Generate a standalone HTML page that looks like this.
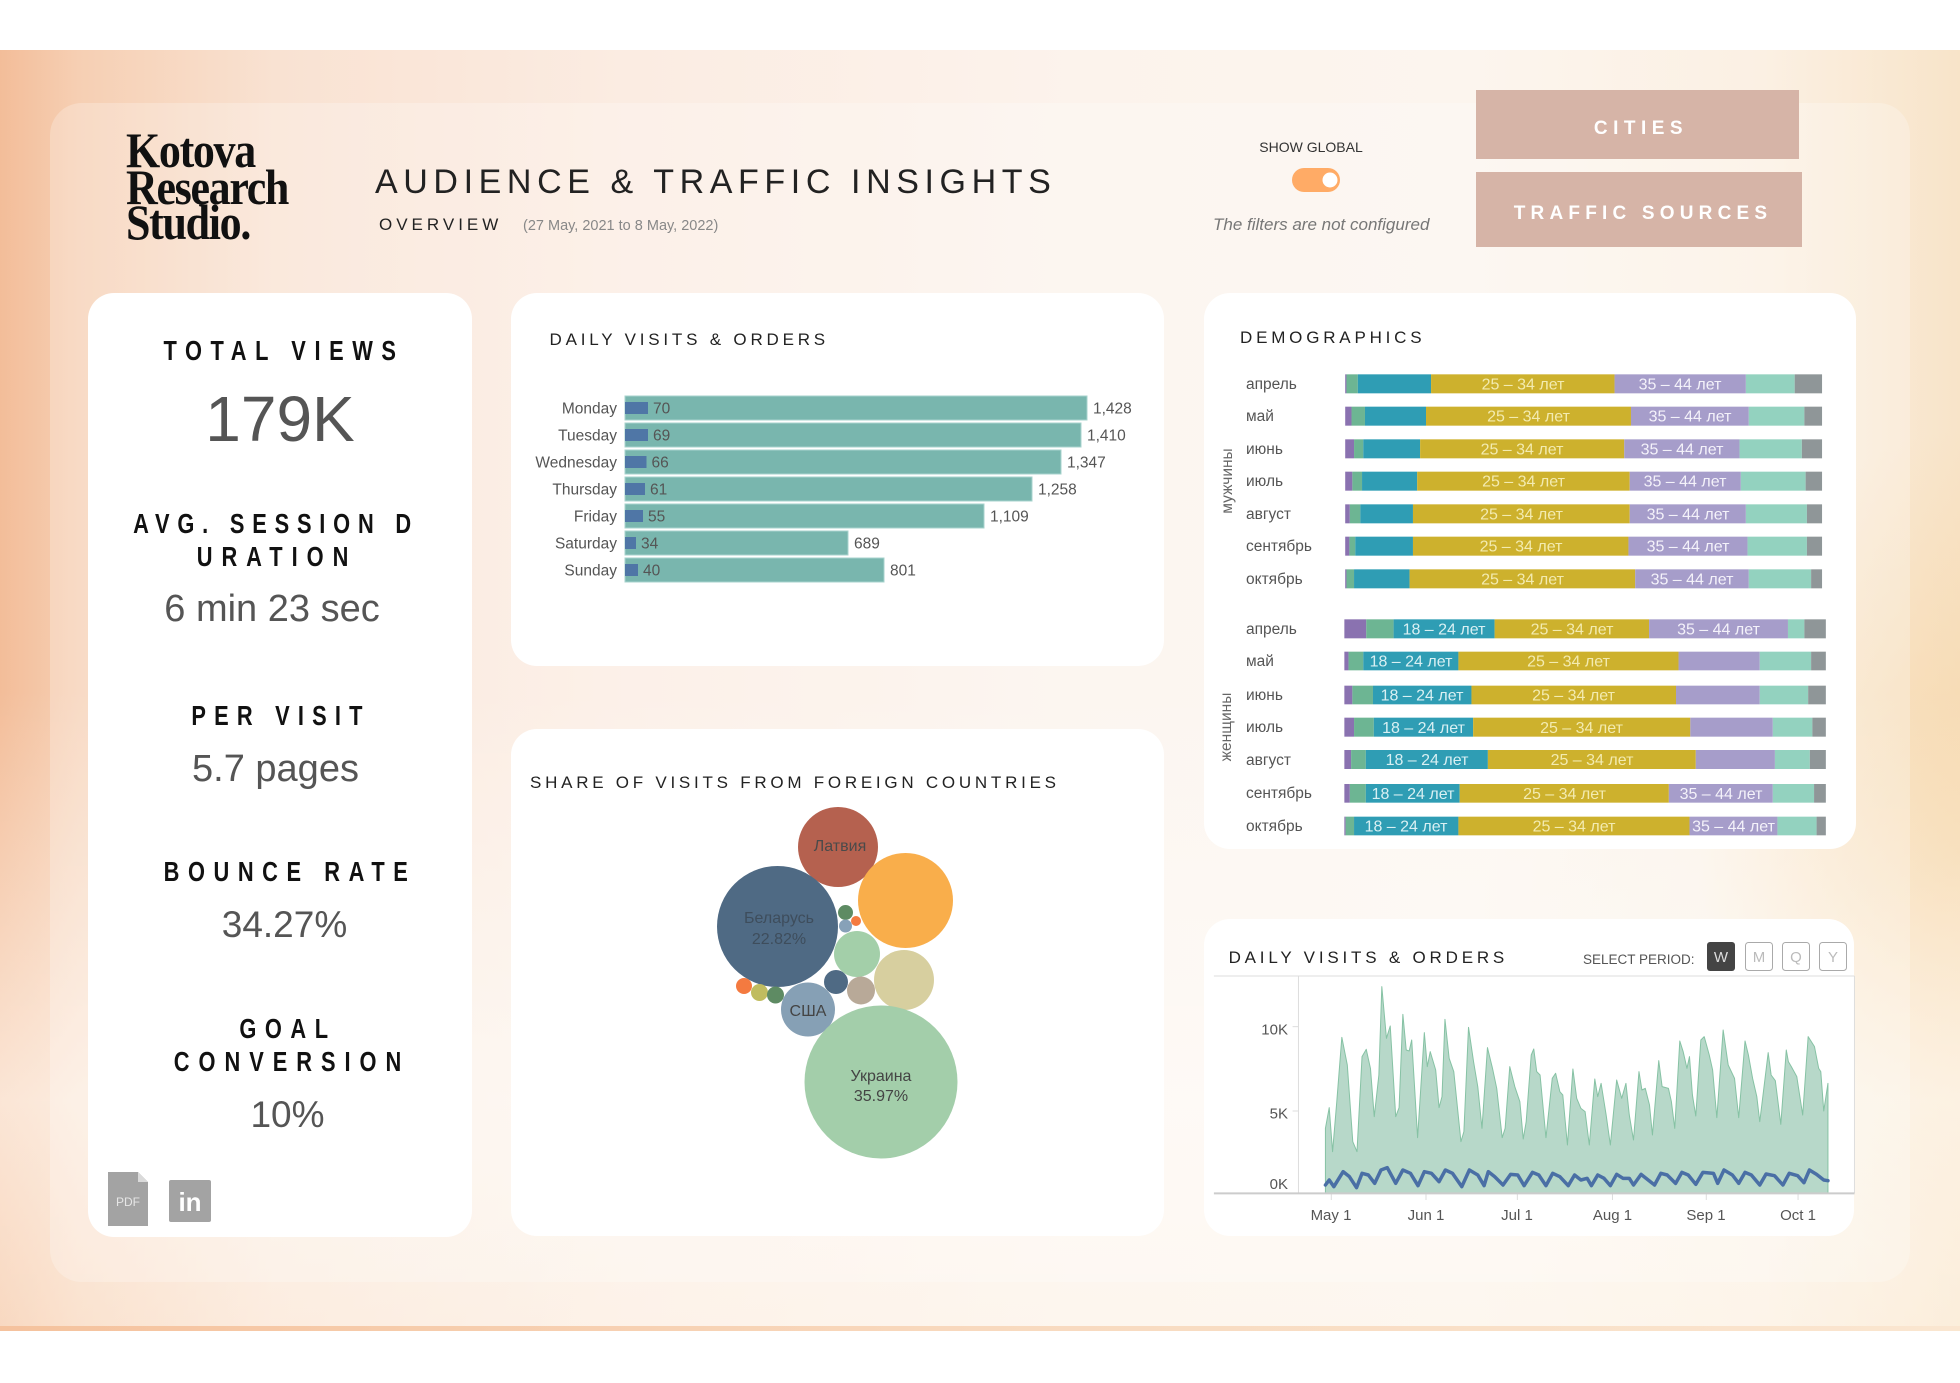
<!DOCTYPE html>
<html><head><meta charset="utf-8">
<style>
html,body{margin:0;padding:0;}
body{width:1960px;height:1383px;position:relative;overflow:hidden;background:#fff;font-family:"Liberation Sans","Noto Sans CJK SC",sans-serif;}
.bg{position:absolute;left:0;top:50px;width:1960px;height:1281px;
background:
linear-gradient(to bottom, rgba(255,255,255,0) 0%, rgba(255,255,255,0) 50%, rgba(255,251,246,0.65) 82%, rgba(255,249,240,0.45) 100%),
radial-gradient(ellipse 260px 420px at 1960px 800px, rgba(246,214,168,0.9), rgba(246,214,168,0) 100%),
linear-gradient(to right, #F3BD99 0%, #F6CFB3 4%, #F9E2D2 14%, #FBECE2 32%, #FCF3EC 55%, #FCF5EE 75%, #FBF0E3 90%, #F8E4C9 100%);}
.bgline{position:absolute;left:0;top:1326px;width:1960px;height:5px;background:linear-gradient(to right,#F5C29D,#F8D9BE 50%,#FAE6D0);}
.panel{position:absolute;left:50px;top:103px;width:1860px;height:1179px;border-radius:32px;background:rgba(255,255,255,0.24);}
.card{position:absolute;background:#fff;border-radius:26px;}
svg{position:absolute;left:0;top:0;}
</style></head><body>
<div class="bg"></div>
<div class="bgline"></div>
<div class="panel"></div>
<div class="card" style="left:88px;top:293px;width:384px;height:944px;"></div>
<div class="card" style="left:511px;top:293px;width:653px;height:373px;"></div>
<div class="card" style="left:511px;top:729px;width:653px;height:507px;"></div>
<div class="card" style="left:1204px;top:293px;width:652px;height:556px;"></div>
<div class="card" style="left:1204px;top:919px;width:650px;height:317px;"></div>

<svg width="1960" height="1383" viewBox="0 0 1960 1383" xmlns="http://www.w3.org/2000/svg" font-family="Liberation Sans, sans-serif">
<!-- Logo -->
<g font-family="Liberation Serif, serif" font-weight="bold" font-size="50" fill="#111" style="letter-spacing:-1.5px">
<text transform="translate(126,167) scale(0.88,1)">Kotova</text>
<text transform="translate(126,204) scale(0.88,1)">Research</text>
<text transform="translate(126,239) scale(0.88,1)">Studio.</text>
</g>
<!-- Title -->
<text x="375" y="193" font-size="34" fill="#222" style="letter-spacing:5.6px">AUDIENCE &amp; TRAFFIC INSIGHTS</text>
<text x="379" y="230" font-size="17" fill="#222" style="letter-spacing:4px">OVERVIEW</text>
<text x="523" y="230" font-size="14.5" fill="#888">(27 May, 2021 to 8 May, 2022)</text>
<!-- Show global -->
<text x="1311" y="152" font-size="14" fill="#333" text-anchor="middle">SHOW GLOBAL</text>
<rect x="1292" y="168" width="48" height="24" rx="12" fill="#FFAB66"/>
<circle cx="1330" cy="180" r="7.5" fill="#fff"/>
<text x="1213" y="230" font-size="17" font-style="italic" fill="#777">The filters are not configured</text>
<!-- Buttons -->
<rect x="1476" y="90" width="323" height="69" fill="#D6B4A7"/>
<text x="1641" y="134" font-size="19" font-weight="bold" fill="#fff" text-anchor="middle" style="letter-spacing:5.5px">CITIES</text>
<rect x="1476" y="172" width="326" height="75" fill="#D6B4A7"/>
<text x="1643" y="219" font-size="19" font-weight="bold" fill="#fff" text-anchor="middle" style="letter-spacing:5.2px">TRAFFIC SOURCES</text>

<!-- KPI card -->
<g font-weight="bold" font-size="28" fill="#111" text-anchor="middle">
<text transform="translate(284,360) scale(0.78,1)" style="letter-spacing:11px">TOTAL VIEWS</text>
<text transform="translate(276,533) scale(0.78,1)" style="letter-spacing:10px">AVG. SESSION D</text>
<text transform="translate(277,566) scale(0.78,1)" style="letter-spacing:11.5px">URATION</text>
<text transform="translate(281,725) scale(0.78,1)" style="letter-spacing:10.5px">PER VISIT</text>
<text transform="translate(290,881) scale(0.78,1)" style="letter-spacing:11px">BOUNCE RATE</text>
<text transform="translate(288,1038) scale(0.78,1)" style="letter-spacing:11px">GOAL</text>
<text transform="translate(292,1071) scale(0.78,1)" style="letter-spacing:11.5px">CONVERSION</text>
</g>
<g fill="#555" text-anchor="middle">
<text x="280" y="441" font-size="64">179K</text>
<text x="272" y="621" font-size="38">6 min 23 sec</text>
<text x="275.5" y="781" font-size="38">5.7 pages</text>
<text x="284.5" y="937" font-size="37">34.27%</text>
<text x="287.5" y="1127" font-size="37">10%</text>
</g>
<path d="M108,1172 H138 L148,1182 V1226 H108 Z" fill="#A3A3A3"/>
<path d="M138,1172 V1182 H148 Z" fill="#DADADA"/>
<text x="128" y="1206" font-size="12" fill="#E6E6E6" text-anchor="middle">PDF</text>
<rect x="169" y="1180" width="42" height="42" rx="2" fill="#A3A3A3"/>
<text x="190" y="1211" font-size="26" font-weight="bold" fill="#fff" text-anchor="middle">in</text>

<!-- Daily visits bar chart -->
<text x="549.5" y="345" font-size="17" fill="#222" style="letter-spacing:3.8px">DAILY VISITS &amp; ORDERS</text>
<g fill="#79B6AE" stroke="#A7D3CD" stroke-width="1">
<rect x="625" y="396" width="462" height="24"/>
<rect x="625" y="423" width="456" height="24"/>
<rect x="625" y="450" width="436" height="24"/>
<rect x="625" y="477" width="407" height="24"/>
<rect x="625" y="504" width="359" height="24"/>
<rect x="625" y="531" width="223" height="24"/>
<rect x="625" y="558" width="259" height="24"/>
</g>
<g fill="#4F76A6">
<rect x="625" y="402" width="23" height="12"/>
<rect x="625" y="429" width="23" height="12"/>
<rect x="625" y="456" width="21.5" height="12"/>
<rect x="625" y="483" width="20" height="12"/>
<rect x="625" y="510" width="18" height="12"/>
<rect x="625" y="537" width="11" height="12"/>
<rect x="625" y="564" width="13" height="12"/>
</g>
<g font-size="15.5" fill="#555">
<g text-anchor="end">
<text x="617" y="413.5">Monday</text>
<text x="617" y="440.5">Tuesday</text>
<text x="617" y="467.5">Wednesday</text>
<text x="617" y="494.5">Thursday</text>
<text x="617" y="521.5">Friday</text>
<text x="617" y="548.5">Saturday</text>
<text x="617" y="575.5">Sunday</text>
</g>
<text x="653" y="413.5">70</text>
<text x="653" y="440.5">69</text>
<text x="651.5" y="467.5">66</text>
<text x="650" y="494.5">61</text>
<text x="648" y="521.5">55</text>
<text x="641" y="548.5">34</text>
<text x="643" y="575.5">40</text>
<text x="1093" y="413.5">1,428</text>
<text x="1087" y="440.5">1,410</text>
<text x="1067" y="467.5">1,347</text>
<text x="1038" y="494.5">1,258</text>
<text x="990" y="521.5">1,109</text>
<text x="854" y="548.5">689</text>
<text x="890" y="575.5">801</text>
</g>

<!-- Bubble chart -->
<text x="530" y="788" font-size="17" fill="#222" style="letter-spacing:3.75px">SHARE OF VISITS FROM FOREIGN COUNTRIES</text>
<circle cx="838" cy="847" r="40" fill="#B5614F"/>
<circle cx="777.5" cy="926.5" r="60.5" fill="#4F6A84"/>
<circle cx="905.5" cy="900.5" r="47.5" fill="#F9AE4B"/>
<circle cx="857" cy="954" r="23" fill="#A3CFA9"/>
<circle cx="904" cy="980" r="30" fill="#D7CF9F"/>
<circle cx="845.5" cy="912.5" r="7.5" fill="#5E8B63"/>
<circle cx="856" cy="921" r="5" fill="#F47A40"/>
<circle cx="845.5" cy="926" r="6.5" fill="#87A1B8"/>
<circle cx="836" cy="982" r="12" fill="#4F6A84"/>
<circle cx="861" cy="990.5" r="14" fill="#B8A998"/>
<circle cx="808" cy="1009.5" r="27" fill="#86A0B5"/>
<circle cx="744" cy="986" r="8" fill="#F47A40"/>
<circle cx="759.5" cy="992.5" r="8.5" fill="#C0BC5F"/>
<circle cx="775.5" cy="995" r="8.5" fill="#5E8B63"/>
<circle cx="881" cy="1082" r="76.5" fill="#A3CEAA"/>
<g font-size="16" text-anchor="middle">
<text x="840" y="851" fill="#4a4a4a">Латвия</text>
<text x="779" y="923" fill="#3E4D5C">Беларусь</text>
<text x="779" y="944" fill="#3E4D5C">22.82%</text>
<text x="808" y="1016" fill="#444">США</text>
<text x="881" y="1081" fill="#444">Украина</text>
<text x="881" y="1101" fill="#444">35.97%</text>
</g>

<!-- Demographics -->
<text x="1240" y="343" font-size="17" fill="#222" style="letter-spacing:3.8px">DEMOGRAPHICS</text>
<g transform="translate(1200,290) scale(0.420875,0.333333)">
<g fill="#8A72B0"><rect x="345" y="253" width="3" height="57"/><rect x="345" y="350" width="15" height="57"/><rect x="345" y="448" width="21" height="57"/><rect x="345" y="545" width="17" height="57"/><rect x="345" y="643" width="11" height="57"/><rect x="345" y="740" width="10" height="57"/><rect x="345" y="838" width="3" height="57"/></g>
<g fill="#6DB593"><rect x="348" y="253" width="27" height="57"/><rect x="360" y="350" width="32" height="57"/><rect x="366" y="448" width="22" height="57"/><rect x="362" y="545" width="23" height="57"/><rect x="356" y="643" width="25" height="57"/><rect x="355" y="740" width="14" height="57"/><rect x="348" y="838" width="18" height="57"/></g>
<g fill="#2F9DB4"><rect x="375" y="253" width="174" height="57"/><rect x="392" y="350" width="145" height="57"/><rect x="388" y="448" width="135" height="57"/><rect x="385" y="545" width="131" height="57"/><rect x="381" y="643" width="125" height="57"/><rect x="369" y="740" width="137" height="57"/><rect x="366" y="838" width="132" height="57"/></g>
<g fill="#CDB12D"><rect x="549" y="253" width="436" height="57"/><rect x="537" y="350" width="487" height="57"/><rect x="523" y="448" width="485" height="57"/><rect x="516" y="545" width="505" height="57"/><rect x="506" y="643" width="515" height="57"/><rect x="506" y="740" width="512" height="57"/><rect x="498" y="838" width="536" height="57"/></g>
<g fill="#A69DCA"><rect x="985" y="253" width="312" height="57"/><rect x="1024" y="350" width="280" height="57"/><rect x="1008" y="448" width="274" height="57"/><rect x="1021" y="545" width="264" height="57"/><rect x="1021" y="643" width="276" height="57"/><rect x="1018" y="740" width="283" height="57"/><rect x="1034" y="838" width="270" height="57"/></g>
<g fill="#93D2BF"><rect x="1297" y="253" width="116" height="57"/><rect x="1304" y="350" width="132" height="57"/><rect x="1282" y="448" width="148" height="57"/><rect x="1285" y="545" width="154" height="57"/><rect x="1297" y="643" width="145" height="57"/><rect x="1301" y="740" width="141" height="57"/><rect x="1304" y="838" width="148" height="57"/></g>
<g fill="#8F9698"><rect x="1413" y="253" width="65" height="57"/><rect x="1436" y="350" width="42" height="57"/><rect x="1430" y="448" width="48" height="57"/><rect x="1439" y="545" width="39" height="57"/><rect x="1442" y="643" width="36" height="57"/><rect x="1442" y="740" width="36" height="57"/><rect x="1452" y="838" width="26" height="57"/></g>
</g>
<g transform="translate(1200,590) scale(0.420875,0.333333)">
<g fill="#8A72B0"><rect x="343" y="88" width="52" height="57"/><rect x="343" y="185" width="10" height="56"/><rect x="343" y="287" width="19" height="56"/><rect x="343" y="383" width="23" height="57"/><rect x="343" y="480" width="16" height="57"/><rect x="343" y="582" width="13" height="56"/><rect x="343" y="680" width="3" height="56"/></g>
<g fill="#6DB593"><rect x="395" y="88" width="65" height="57"/><rect x="353" y="185" width="35" height="56"/><rect x="362" y="287" width="49" height="56"/><rect x="366" y="383" width="47" height="57"/><rect x="359" y="480" width="35" height="57"/><rect x="356" y="582" width="38" height="56"/><rect x="346" y="680" width="20" height="56"/></g>
<g fill="#2F9DB4"><rect x="460" y="88" width="240" height="57"/><rect x="388" y="185" width="226" height="56"/><rect x="411" y="287" width="234" height="56"/><rect x="413" y="383" width="236" height="57"/><rect x="394" y="480" width="290" height="57"/><rect x="394" y="582" width="223" height="56"/><rect x="366" y="680" width="248" height="56"/></g>
<g fill="#CDB12D"><rect x="700" y="88" width="367" height="57"/><rect x="614" y="185" width="523" height="56"/><rect x="645" y="287" width="486" height="56"/><rect x="649" y="383" width="516" height="57"/><rect x="684" y="480" width="494" height="57"/><rect x="617" y="582" width="497" height="56"/><rect x="614" y="680" width="549" height="56"/></g>
<g fill="#A69DCA"><rect x="1067" y="88" width="330" height="57"/><rect x="1137" y="185" width="193" height="56"/><rect x="1131" y="287" width="199" height="56"/><rect x="1165" y="383" width="196" height="57"/><rect x="1178" y="480" width="188" height="57"/><rect x="1114" y="582" width="247" height="56"/><rect x="1163" y="680" width="209" height="56"/></g>
<g fill="#93D2BF"><rect x="1397" y="88" width="39" height="57"/><rect x="1330" y="185" width="122" height="56"/><rect x="1330" y="287" width="115" height="56"/><rect x="1361" y="383" width="94" height="57"/><rect x="1366" y="480" width="83" height="57"/><rect x="1361" y="582" width="98" height="56"/><rect x="1372" y="680" width="93" height="56"/></g>
<g fill="#8F9698"><rect x="1436" y="88" width="51" height="57"/><rect x="1452" y="185" width="35" height="56"/><rect x="1445" y="287" width="42" height="56"/><rect x="1455" y="383" width="32" height="57"/><rect x="1449" y="480" width="38" height="57"/><rect x="1459" y="582" width="28" height="56"/><rect x="1465" y="680" width="22" height="56"/></g>
</g>
<g font-size="15.5" fill="#555">
<text x="1246" y="389">апрель</text>
<text x="1246" y="421">май</text>
<text x="1246" y="454">июнь</text>
<text x="1246" y="486">июль</text>
<text x="1246" y="519">август</text>
<text x="1246" y="551">сентябрь</text>
<text x="1246" y="584">октябрь</text>
<text x="1246" y="634">апрель</text>
<text x="1246" y="666">май</text>
<text x="1246" y="700">июнь</text>
<text x="1246" y="732">июль</text>
<text x="1246" y="765">август</text>
<text x="1246" y="798">сентябрь</text>
<text x="1246" y="831">октябрь</text>
</g>
<text transform="translate(1232,481) rotate(-90)" font-size="15.5" fill="#666" text-anchor="middle">мужчины</text>
<text transform="translate(1231,727) rotate(-90)" font-size="15.5" fill="#666" text-anchor="middle">женщины</text>
<g font-size="16" text-anchor="middle">
<g fill="#F3EBB0">
<text x="1523" y="389.5">25 – 34 лет</text>
<text x="1528.5" y="421.5">25 – 34 лет</text>
<text x="1522" y="454.5">25 – 34 лет</text>
<text x="1523.5" y="486.5">25 – 34 лет</text>
<text x="1521.5" y="519.5">25 – 34 лет</text>
<text x="1521" y="551.5">25 – 34 лет</text>
<text x="1522.5" y="584.5">25 – 34 лет</text>
<text x="1572" y="634.5">25 – 34 лет</text>
<text x="1568.5" y="666.5">25 – 34 лет</text>
<text x="1573.5" y="700.5">25 – 34 лет</text>
<text x="1581.5" y="733">25 – 34 лет</text>
<text x="1592" y="765">25 – 34 лет</text>
<text x="1564.5" y="799">25 – 34 лет</text>
<text x="1574" y="831.5">25 – 34 лет</text>
</g>
<g fill="#F4F2FA">
<text x="1680" y="389.5">35 – 44 лет</text>
<text x="1690" y="421.5">35 – 44 лет</text>
<text x="1682" y="454.5">35 – 44 лет</text>
<text x="1685" y="486.5">35 – 44 лет</text>
<text x="1688" y="519.5">35 – 44 лет</text>
<text x="1688" y="551.5">35 – 44 лет</text>
<text x="1692" y="584.5">35 – 44 лет</text>
<text x="1718.5" y="634.5">35 – 44 лет</text>
<text x="1721" y="799">35 – 44 лет</text>
<text x="1733.5" y="831.5">35 – 44 лет</text>
</g>
<g fill="#D9F0F3">
<text x="1444" y="634.5">18 – 24 лет</text>
<text x="1411" y="666.5">18 – 24 лет</text>
<text x="1422" y="700.5">18 – 24 лет</text>
<text x="1423.5" y="733">18 – 24 лет</text>
<text x="1427" y="765">18 – 24 лет</text>
<text x="1413" y="799">18 – 24 лет</text>
<text x="1406" y="831.5">18 – 24 лет</text>
</g>
</g>

<!-- Area chart -->
<text x="1228.6" y="963" font-size="17" fill="#222" style="letter-spacing:3.8px">DAILY VISITS &amp; ORDERS</text>
<text x="1583" y="964" font-size="13.5" fill="#555">SELECT PERIOD:</text>
<rect x="1707" y="942" width="28" height="29" rx="3" fill="#444"/>
<text x="1721" y="962" font-size="15" fill="#ddd" text-anchor="middle">W</text>
<g fill="#fff" stroke="#AAA" stroke-width="1">
<rect x="1745.5" y="942.5" width="27" height="28" rx="3"/>
<rect x="1782.5" y="942.5" width="27" height="28" rx="3"/>
<rect x="1819.5" y="942.5" width="27" height="28" rx="3"/>
</g>
<g font-size="15" fill="#BBB" text-anchor="middle">
<text x="1759" y="962">M</text>
<text x="1796" y="962">Q</text>
<text x="1833" y="962">Y</text>
</g>
<g transform="translate(1200,915) scale(0.420875,0.333333)">
<g stroke="#DDD" fill="none">
<line x1="33" y1="183" x2="1555" y2="183" vector-effect="non-scaling-stroke" stroke-width="1"/>
<line x1="234" y1="183" x2="234" y2="835" vector-effect="non-scaling-stroke" stroke-width="1"/>
<line x1="1555" y1="183" x2="1555" y2="835" vector-effect="non-scaling-stroke" stroke-width="1"/>
<line x1="220" y1="335" x2="234" y2="335" vector-effect="non-scaling-stroke" stroke-width="1"/>
<line x1="220" y1="588" x2="234" y2="588" vector-effect="non-scaling-stroke" stroke-width="1"/>
<line x1="312" y1="835" x2="312" y2="855" vector-effect="non-scaling-stroke" stroke-width="1"/>
<line x1="537" y1="835" x2="537" y2="855" vector-effect="non-scaling-stroke" stroke-width="1"/>
<line x1="754" y1="835" x2="754" y2="855" vector-effect="non-scaling-stroke" stroke-width="1"/>
<line x1="980" y1="835" x2="980" y2="855" vector-effect="non-scaling-stroke" stroke-width="1"/>
<line x1="1203" y1="835" x2="1203" y2="855" vector-effect="non-scaling-stroke" stroke-width="1"/>
<line x1="1421" y1="835" x2="1421" y2="855" vector-effect="non-scaling-stroke" stroke-width="1"/>
</g>
<path d="M298,835 L298,640 307,578 315,710 325,560 337,367 350,450 363,680 373,710 385,425 395,403 405,460 414,605 425,480 432,215 443,370 452,333 465,605 473,578 482,298 490,405 497,408 503,375 510,520 517,668 533,353 540,455 547,410 560,465 568,578 575,545 582,313 592,430 603,470 620,680 627,650 638,337 650,440 660,515 670,640 683,398 695,460 705,520 718,668 725,640 736,455 748,515 760,560 768,672 775,620 787,420 793,402 800,470 808,480 822,668 837,490 845,475 855,530 862,540 873,690 886,462 895,550 905,580 915,590 925,690 938,492 945,545 953,505 965,600 975,690 990,495 1002,550 1012,505 1020,600 1030,675 1043,470 1050,525 1058,520 1068,570 1075,660 1090,437 1098,515 1113,520 1120,560 1128,640 1140,378 1148,410 1157,460 1163,425 1170,540 1178,603 1190,375 1198,365 1210,420 1218,465 1228,608 1243,345 1255,450 1270,490 1280,608 1295,378 1303,420 1313,490 1323,545 1330,620 1350,413 1357,480 1367,497 1380,628 1393,405 1398,440 1405,455 1418,485 1432,600 1445,365 1460,395 1470,460 1475,470 1482,588 1492,505 L1492,835 Z" fill="#B7D8C9" stroke="#86C2A4" stroke-width="1" vector-effect="non-scaling-stroke" stroke-linejoin="round"/>
<polyline points="298,810 307,795 318,815 340,770 355,785 372,818 385,775 400,780 415,805 430,765 445,758 465,805 482,765 500,775 518,812 533,770 550,775 568,800 583,765 600,775 622,815 640,765 660,780 675,812 685,770 700,785 720,810 738,778 755,780 770,812 790,772 805,780 822,812 838,775 855,785 875,812 890,780 905,795 920,790 930,812 945,780 960,790 975,812 990,778 1005,790 1020,790 1030,810 1048,778 1060,790 1080,810 1095,775 1110,780 1130,805 1145,772 1160,780 1178,808 1195,772 1220,775 1230,805 1245,765 1265,780 1280,805 1295,772 1310,780 1330,810 1345,777 1365,782 1385,810 1400,775 1420,782 1435,803 1448,765 1465,778 1482,795 1492,797" fill="none" stroke="#4A6FA5" stroke-width="3.5" vector-effect="non-scaling-stroke" stroke-linejoin="round" stroke-linecap="round"/>
<line x1="33" y1="835" x2="1555" y2="835" stroke="#CCC" stroke-width="2" vector-effect="non-scaling-stroke"/>
</g>
<g font-size="15" fill="#555">
<g text-anchor="end">
<text x="1288" y="1034.5">10K</text>
<text x="1288" y="1118.5">5K</text>
<text x="1288" y="1189">0K</text>
</g>
<g text-anchor="middle">
<text x="1331" y="1220">May 1</text>
<text x="1426" y="1220">Jun 1</text>
<text x="1517" y="1220">Jul 1</text>
<text x="1612.5" y="1220">Aug 1</text>
<text x="1706" y="1220">Sep 1</text>
<text x="1798" y="1220">Oct 1</text>
</g>
</g>
</svg>
</body></html>
